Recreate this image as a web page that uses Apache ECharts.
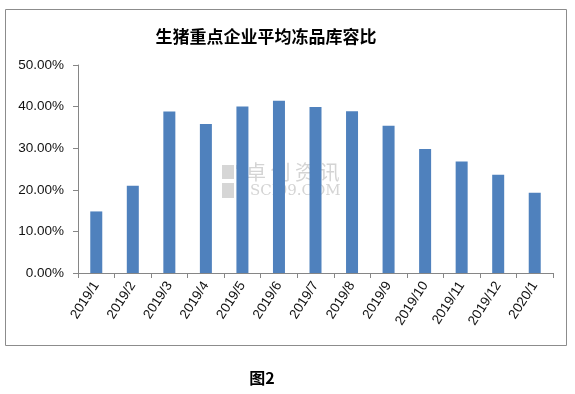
<!DOCTYPE html>
<html><head><meta charset="utf-8">
<script src="https://cdn.jsdelivr.net/npm/echarts@6/dist/echarts.min.js"></script>
<style>html,body{margin:0;padding:0;background:#fff}#c{width:575px;height:394px}</style>
</head><body><div id="c"></div>
<script>
const categories = ['2019/1','2019/2','2019/3','2019/4','2019/5','2019/6','2019/7','2019/8','2019/9','2019/10','2019/11','2019/12','2020/1'];
const values = [14.8, 21.0, 38.8, 35.8, 40.0, 41.4, 39.9, 38.9, 35.4, 29.8, 26.8, 23.6, 19.3];
const titleText = '生猪重点企业平均冻品库容比';
const captionText = '图2';

const chart = echarts.init(document.getElementById('c'), null, {renderer: 'canvas'});
chart.setOption({
  animation: false,
  backgroundColor: '#fff',
  title: {
    text: titleText,
    left: 261, top: 23, textAlign: 'center',
    textStyle: {fontFamily: 'Noto Sans CJK SC', fontSize: 17, fontWeight: 'bold', color: '#000'}
  },
  graphic: [
    {type: 'rect', shape: {x: 5.5, y: 9.5, width: 561, height: 336}, style: {fill: 'none', stroke: '#8c8c8c', lineWidth: 1}, z: -1},
    {type: 'text', style: {text: captionText, font: 'bold 16px "Noto Sans CJK SC"', fill: '#000', x: 262, y: 370, textAlign: 'center'}},
    {type: 'rect', shape: {x: 222, y: 165, width: 12, height: 14}, style: {fill: '#d6d6d6'}, z: 1},
    {type: 'rect', shape: {x: 222, y: 183, width: 12, height: 15}, style: {fill: '#d6d6d6'}, z: 1},
    {type: 'rect', shape: {x: 236, y: 165, width: 10, height: 4}, style: {fill: '#dcdcdc'}, z: 1},
    {type: 'text', style: {text: '卓 创 资 讯', x: 246, y: 162, font: '20px "Noto Sans CJK SC"', fill: '#d4d4d4'}, z: 1},
    {type: 'text', style: {text: 'SCI99.COM', x: 250, y: 184, font: '15px "DejaVu Serif"', fill: '#d4d4d4'}, z: 1}
  ],
  grid: {left: 78, right: 22, top: 65, bottom: 121, containLabel: false},
  xAxis: {
    type: 'category', data: categories,
    boundaryGap: true,
    axisLine: {lineStyle: {color: '#868686', width: 1}},
    axisTick: {show: true, alignWithLabel: false, length: 5, lineStyle: {color: '#868686'}},
    axisLabel: {rotate: 57, fontFamily: 'Liberation Sans', fontSize: 13.5, color: '#111', margin: 10, interval: 0}
  },
  yAxis: {
    type: 'value', min: 0, max: 50, interval: 10,
    axisLine: {show: true, lineStyle: {color: '#868686'}},
    axisTick: {show: true, length: 5, lineStyle: {color: '#868686'}},
    splitLine: {show: false},
    axisLabel: {formatter: v => v.toFixed(2) + '%', fontFamily: 'Liberation Sans', fontSize: 13.5, color: '#111', margin: 14}
  },
  series: [{
    type: 'bar', data: values, barWidth: 12,
    itemStyle: {color: '#4f81bd'}
  }]
});
</script></body></html>
